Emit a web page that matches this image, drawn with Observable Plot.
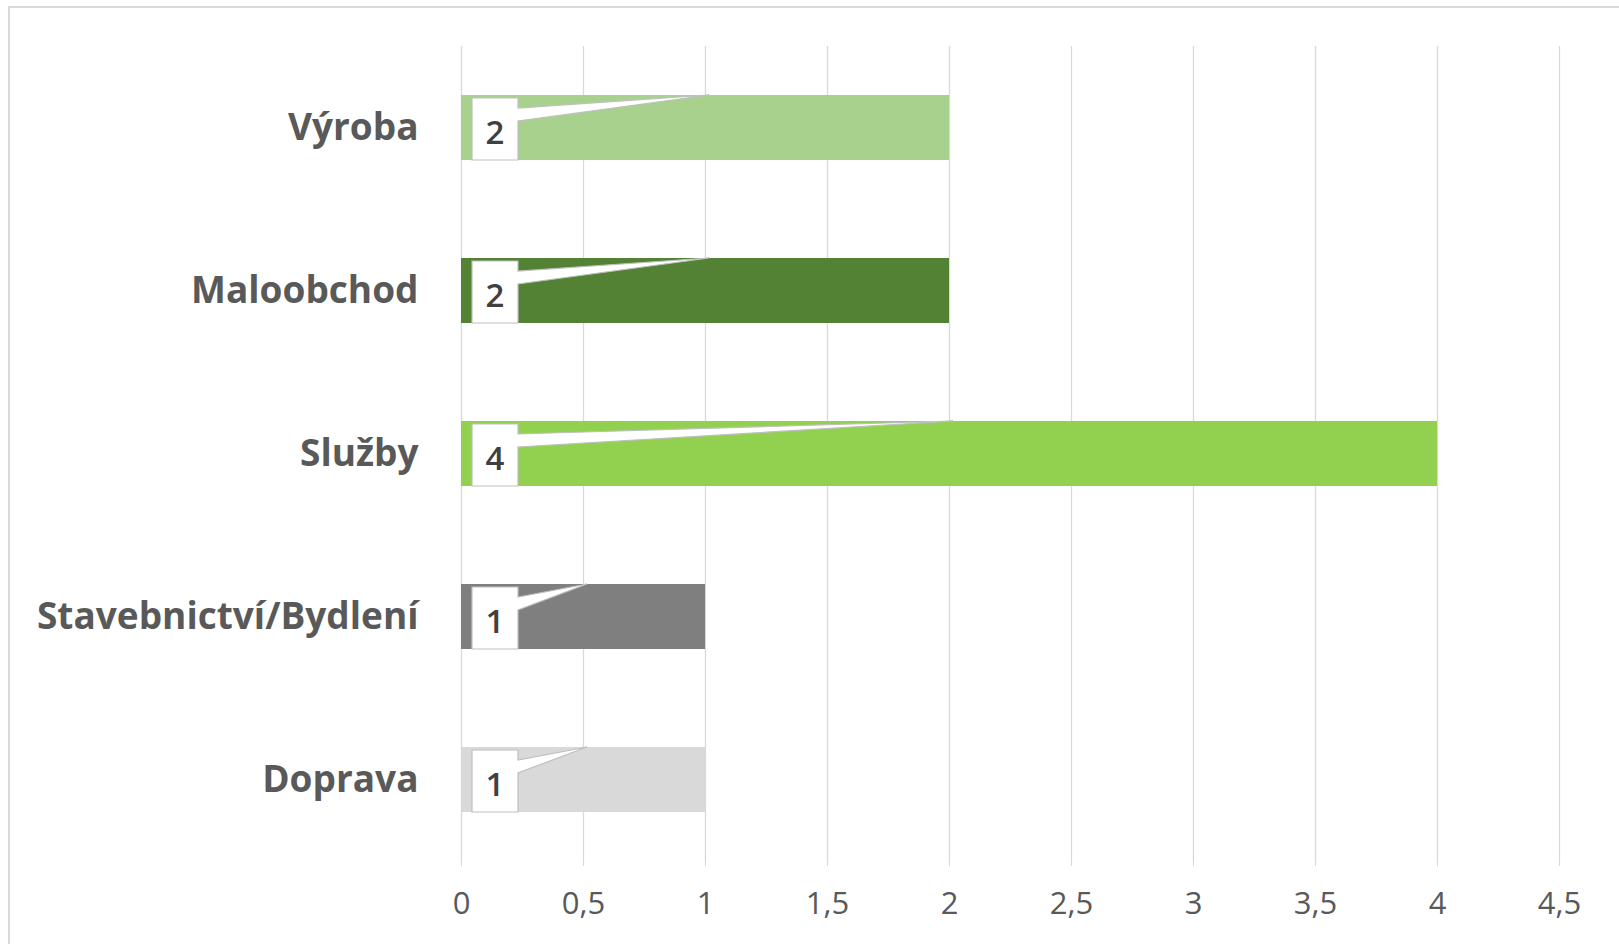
<!DOCTYPE html>
<html><head><meta charset="utf-8">
<script src="https://cdn.jsdelivr.net/npm/d3@7"></script>
<script src="https://cdn.jsdelivr.net/npm/@observablehq/plot@0.6"></script>
<style>
html,body{margin:0;padding:0;background:#fff;overflow:hidden;}
#wrap{position:relative;width:1619px;height:944px;overflow:hidden;}
#frame{position:absolute;left:8px;top:6px;width:1700px;height:1000px;border:2px solid #d9d9d9;box-sizing:border-box;pointer-events:none;}
#chart{position:absolute;left:0;top:0;}
</style></head><body>
<div id="wrap"><div id="frame"></div><div id="chart"></div></div>
<script>
const categories = ["Výroba", "Maloobchod", "Služby", "Stavebnictví/Bydlení", "Doprava"];
const values = [2, 2, 4, 1, 1];
const colors = ["#A9D18E", "#548235", "#92D050", "#7F7F7F", "#D9D9D9"];
const xTicks = [0, 0.5, 1, 1.5, 2, 2.5, 3, 3.5, 4, 4.5];

const data = categories.map((c, i) => ({category: c, value: values[i], color: colors[i]}));
const fmt = v => String(v).replace(".", ",");

const plot = Plot.plot({
  width: 1619, height: 944,
  marginLeft: 461, marginRight: 60, marginTop: 46, marginBottom: 82,
  style: {fontFamily: "'Open Sans', sans-serif", background: "transparent"},
  x: {domain: [0, 4.5], label: null},
  y: {domain: categories, paddingInner: 0.6, paddingOuter: 0.3, label: null},
  color: {type: "identity"},
  marks: [
    Plot.gridX(xTicks, {stroke: "#d9d9d9", strokeOpacity: 1, strokeWidth: 1.3}),
    Plot.barX(data, {x: "value", y: "category", fill: "color"}),
    Plot.axisX(xTicks, {tickFormat: fmt, tickSize: 4, stroke: "#d9d9d9", strokeOpacity: 1, tickPadding: 25, fontSize: 31, fill: "#595959", label: null}),
    Plot.axisY({tickSize: 0, tickPadding: 43, fontSize: 37, fontWeight: "bold", fill: "#595959", label: null})
  ]
});
document.getElementById("chart").appendChild(plot);

// data-label callouts, placed through the plot's own scales
const xs = plot.scale("x"), ys = plot.scale("y");
const bw = ys.bandwidth;
const g = d3.select(plot).append("g");
data.forEach(d => {
  const top = ys.apply(d.category);
  const bottom = top + bw;
  const x0 = xs.apply(0);
  const bl = x0 + 11, br = x0 + 57, bt = top + 3;
  const tipX = xs.apply(d.value / 2) + 4, tipY = top;
  const path = `M${bl},${bt}L${br},${bt}L${br},${bt + 10}L${tipX},${tipY}L${br},${bt + 23}L${br},${bottom}L${bl},${bottom}Z`;
  g.append("path").attr("d", path).attr("fill", "#fff").attr("stroke", "#bfbfbf").attr("stroke-width", 1.2).attr("stroke-linejoin", "miter");
  g.append("text").attr("x", (bl + br) / 2).attr("y", (bt + bottom) / 2 + 2)
    .attr("text-anchor", "middle").attr("dominant-baseline", "central")
    .attr("font-size", 33).attr("font-weight", 600).attr("fill", "#404040")
    .attr("font-family", "'Open Sans', sans-serif")
    .text(fmt(d.value));
});
</script>
</body></html>
